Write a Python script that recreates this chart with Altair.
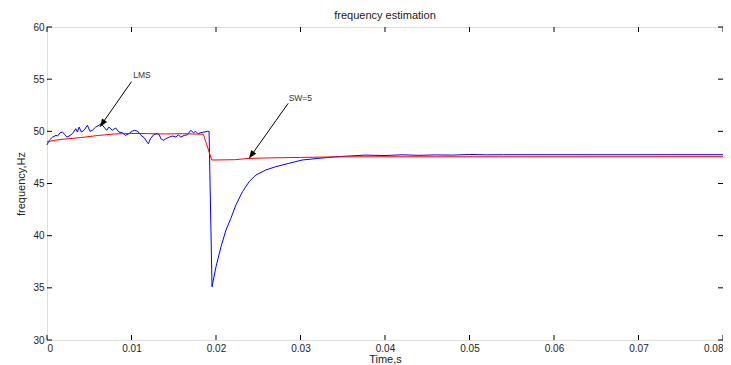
import altair as alt
import pandas as pd

# ---- data ----
blue_t = [0.0, 0.00027, 0.00066, 0.00106, 0.00125, 0.00156, 0.00184, 0.00212, 0.00235, 0.00262,
          0.00301, 0.00341, 0.0036, 0.0038, 0.00407, 0.00439, 0.00478, 0.00509, 0.00536, 0.00576,
          0.00615, 0.00642, 0.00674, 0.00706, 0.00733, 0.00772, 0.00812, 0.00851, 0.00889, 0.00929,
          0.00968, 0.01007, 0.01035, 0.01074, 0.01113, 0.01153, 0.01184, 0.012, 0.01224, 0.01262,
          0.01301, 0.01329, 0.01348, 0.0138, 0.01407, 0.01447, 0.01486, 0.01525, 0.01553, 0.01584,
          0.01624, 0.01662, 0.01701, 0.01733, 0.0176, 0.01788, 0.01819, 0.01859, 0.01898, 0.01918,
          0.01953, 0.0200, 0.02059, 0.02118, 0.02176, 0.02235, 0.02313, 0.02392, 0.02471, 0.02588,
          0.02706, 0.02862, 0.03019, 0.03215, 0.03415, 0.03765, 0.040, 0.042, 0.044, 0.046,
          0.048, 0.050, 0.052, 0.054, 0.080]
blue_f = [48.7, 49.14, 49.45, 49.61, 49.55, 49.87, 49.93, 49.67, 49.45, 49.55,
          49.77, 50.25, 49.93, 50.41, 49.93, 50.1, 50.58, 50.0, 50.1, 50.41,
          50.58, 50.73, 50.41, 50.1, 50.41, 50.1, 50.32, 49.93, 49.87, 49.61,
          49.77, 50.0, 50.1, 50.0, 49.61, 49.36, 48.97, 48.81, 49.29, 49.67,
          49.77, 49.67, 49.29, 49.14, 49.29, 49.45, 49.55, 49.45, 49.67, 49.45,
          49.61, 49.67, 50.1, 49.87, 50.0, 49.77, 49.87, 49.93, 50.0, 50.0,
          35.1, 37.02, 38.94, 40.54, 41.66, 42.93, 44.21, 45.17, 45.81, 46.29,
          46.61, 46.93, 47.25, 47.41, 47.56, 47.72, 47.68, 47.75, 47.70, 47.74,
          47.72, 47.78, 47.75, 47.76, 47.76]

red_t = [0.0, 0.001, 0.002, 0.004, 0.006, 0.008, 0.010, 0.012, 0.014, 0.016,
         0.0185, 0.0195, 0.0222, 0.0238, 0.026, 0.030, 0.0342, 0.040, 0.080]
red_f = [49.0, 49.15, 49.25, 49.4, 49.6, 49.75, 49.8, 49.78, 49.75, 49.77,
         49.72, 47.25, 47.28, 47.4, 47.45, 47.5, 47.55, 47.56, 47.57]

x_ticks = [0, 0.01, 0.02, 0.03, 0.04, 0.05, 0.06, 0.07, 0.08]
y_ticks = [30, 35, 40, 45, 50, 55, 60]

ann_label = ["LMS", "SW=5"]
ann_text_t = [0.0102, 0.0286]
ann_text_f = [55.4, 53.16]
ann_tail_t = [0.0100, 0.02854]
ann_tail_f = [54.76, 52.68]
ann_head_t = [0.00627, 0.02392]
ann_head_f = [50.44, 47.41]

W, H = 676, 313
FONT = "Liberation Sans"

blue = pd.DataFrame({"t": blue_t, "f": blue_f})
red = pd.DataFrame({"t": red_t, "f": red_f})
ann = pd.DataFrame({"label": ann_label, "tt": ann_text_t, "tf": ann_text_f,
                    "t0": ann_tail_t, "f0": ann_tail_f, "t1": ann_head_t, "f1": ann_head_f})
xt = pd.DataFrame({"t": x_ticks})
yt = pd.DataFrame({"f": y_ticks})

xs = alt.Scale(domain=[0, 0.08], nice=False, zero=False)
ys = alt.Scale(domain=[30, 60], nice=False, zero=False)

xaxis = alt.Axis(values=x_ticks, format="~g", title="Time,s", ticks=False, domain=False,
                 grid=False, labelPadding=3, labelFontSize=10, titleFontSize=11,
                 titleFontWeight="normal", titlePadding=0, labelOverlap=False,
                 labelColor="#222", titleColor="#222", labelFont=FONT, titleFont=FONT)
yaxis = alt.Axis(values=y_ticks, format="d", title="frequency,Hz", ticks=False, domain=False,
                 grid=False, labelPadding=3, labelFontSize=10, titleFontSize=11,
                 titleFontWeight="normal", titlePadding=6, labelOverlap=False,
                 labelColor="#222", titleColor="#222", labelFont=FONT, titleFont=FONT)

blue_line = alt.Chart(blue).mark_line(color="#0000FF", strokeWidth=1).encode(
    x=alt.X("t:Q", scale=xs, axis=xaxis),
    y=alt.Y("f:Q", scale=ys, axis=yaxis),
)
red_line = alt.Chart(red).mark_line(color="#FF0000", strokeWidth=1).encode(
    x=alt.X("t:Q", scale=xs), y=alt.Y("f:Q", scale=ys)
)

arrows = alt.Chart(ann).mark_rule(color="black", strokeWidth=1).encode(
    x=alt.X("t0:Q", scale=xs), y=alt.Y("f0:Q", scale=ys), x2="t1:Q", y2="f1:Q"
)
heads = alt.Chart(ann).mark_point(
    shape="M0,0L-0.38,1L0.38,1Z", filled=True, color="black", opacity=1,
    size=256, angle=215, strokeWidth=0
).encode(x=alt.X("t1:Q", scale=xs), y=alt.Y("f1:Q", scale=ys))
labels = alt.Chart(ann).mark_text(
    align="left", baseline="middle", fontSize=8.5, font=FONT, color="#333"
).encode(x=alt.X("tt:Q", scale=xs), y=alt.Y("tf:Q", scale=ys), text="label:N")

tick_len = 5
bx = alt.Chart(xt).mark_rule(color="black").encode(
    x=alt.X("t:Q", scale=xs), y=alt.value(H), y2=alt.value(H - tick_len))
tx = alt.Chart(xt).mark_rule(color="black").encode(
    x=alt.X("t:Q", scale=xs), y=alt.value(0), y2=alt.value(tick_len))
ly = alt.Chart(yt).mark_rule(color="black").encode(
    y=alt.Y("f:Q", scale=ys), x=alt.value(0), x2=alt.value(tick_len))
ry = alt.Chart(yt).mark_rule(color="black").encode(
    y=alt.Y("f:Q", scale=ys), x=alt.value(W), x2=alt.value(W - tick_len))

chart = alt.layer(blue_line, red_line, arrows, heads, labels, bx, tx, ly, ry).properties(
    width=W, height=H,
    title=alt.TitleParams("frequency estimation", fontSize=11, fontWeight="normal",
                          font=FONT, color="#222", offset=1),
    autosize=alt.AutoSizeParams(type="none"),
    padding={"left": 39, "top": 19, "right": 0, "bottom": 25},
).configure_view(stroke="black", strokeWidth=1).configure(background="white")

chart.save("out.html", embed_options={"renderer": "svg", "actions": False})
